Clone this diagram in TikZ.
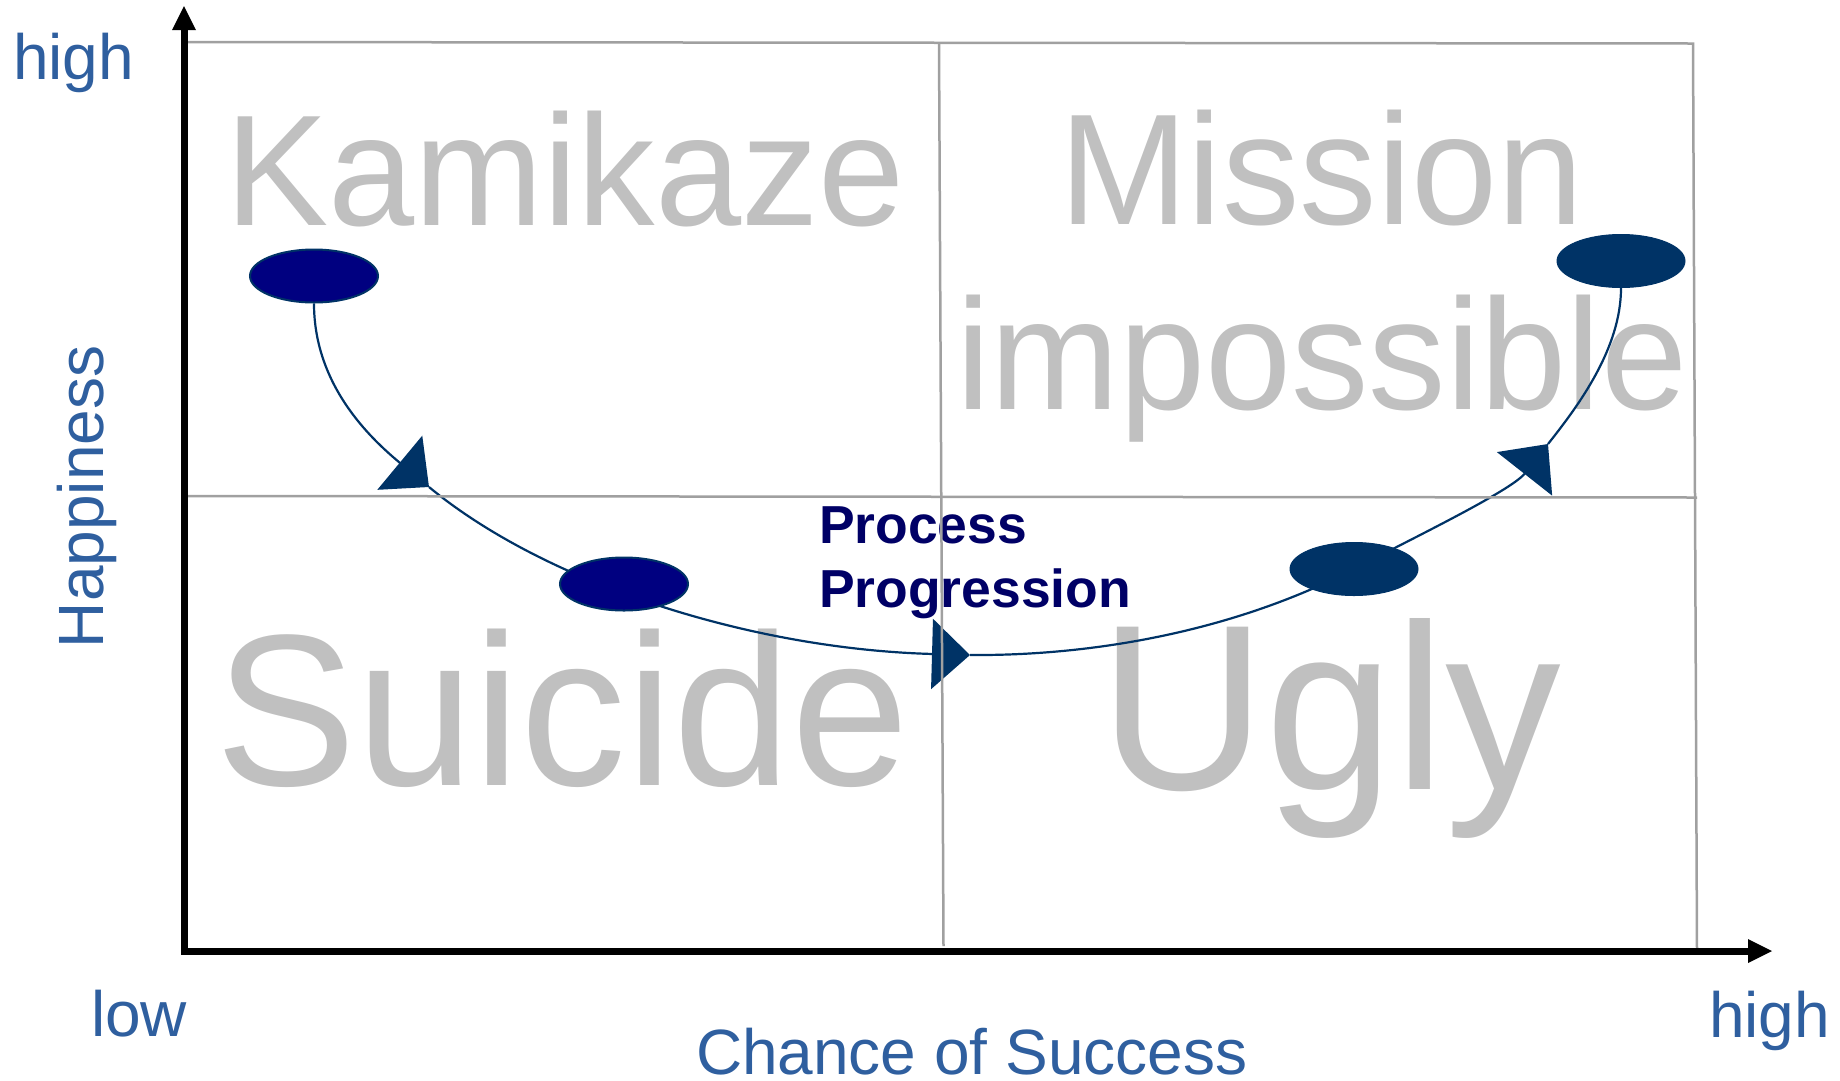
\documentclass[tikz,border=0pt]{standalone}
\usepackage{fontspec}
\setmainfont{Liberation Sans}
\newfontfamily\bigfont[FakeStretch=0.98]{Liberation Sans}
\usetikzlibrary{arrows.meta,shapes.geometric}
\definecolor{gridgray}{HTML}{A0A0A0}
\definecolor{biggray}{HTML}{C0C0C0}
\definecolor{axisblue}{HTML}{2F5F9F}
\definecolor{navytext}{HTML}{000066}
\definecolor{navyfill}{HTML}{000080}
\definecolor{darkblue}{HTML}{003366}
\pgfdeclarelayer{textlayer}
\pgfdeclarelayer{curvelayer}
\pgfdeclarelayer{gridlayer}
\pgfsetlayers{textlayer,curvelayer,main,gridlayer}
\begin{document}
\begin{tikzpicture}[x=1pt,y=-1pt,
  gridline/.style={gridgray, line width=2.5pt},
  quadlabel/.style={biggray, anchor=base west, inner sep=0pt, outer sep=0pt},
  axislabel/.style={axisblue, anchor=base west, inner sep=0pt, outer sep=0pt, font=\fontsize{64}{70}\selectfont},
  proclabel/.style={navytext, anchor=base west, inner sep=0pt, outer sep=0pt, font=\fontsize{53.5}{64}\selectfont\bfseries},
  dot/.style={ellipse, minimum width=128pt, minimum height=53pt, inner sep=0pt},
  dotA/.style={dot, fill=navyfill, draw=darkblue, line width=2pt},
  dotB/.style={dot, fill=darkblue, draw=darkblue, line width=1pt},
  flow/.style={darkblue, line width=2.2pt},
  flowtip/.style={-{Triangle[length=38pt,width=70pt]}},
  axisline/.style={black, line width=7pt, line join=miter,
    {Triangle[length=24pt,width=24pt,line width=0pt]}-{Triangle[length=24pt,width=24pt,line width=0pt]}},
]
\useasboundingbox (0,0) rectangle (1840,1080);

% quadrant labels
\begin{pgfonlayer}{textlayer}
\node[quadlabel, font=\bigfont\fontsize{158}{160}\selectfont] (kam) at (225,225) {Kamikaze};
\node[quadlabel, font=\bigfont\fontsize{158}{160}\selectfont] (mis) at (1059,224) {Mission};
\node[quadlabel, font=\bigfont\fontsize{158}{160}\selectfont] (imp) at (956,409) {impossible};
\node[quadlabel, font=\bigfont\fontsize{216}{220}\selectfont] (sui) at (215,785) {Suicide};
\node[quadlabel, font=\bigfont\fontsize{236}{240}\selectfont] (ugl) at (1099,789) {Ugly};
\end{pgfonlayer}

% stages
\node[dotA] (e1) at (314,276) {};
\node[dotA] (e2) at (624,584) {};
\node[dotB] (e3) at (1354,569) {};
\node[dotB] (e4) at (1621,261) {};

\coordinate (a1) at (429,487);
\coordinate (a2) at (970,655);
\coordinate (a3) at (1548,444);

\begin{pgfonlayer}{curvelayer}
\draw[flow, flowtip] (e1.south) .. controls (314,385) and (370,438) .. (a1);
\draw[flow, flowtip] (a1) .. controls (545,583) and (750,649) .. (a2);
\draw[flow] (a2) .. controls (1100,656) and (1238.6,628.8) .. (e3.center);
\draw[flow, flowtip] (e3.center) .. controls (1407,541) and (1511,491) .. (a3);
\draw[flow] (a3) .. controls (1579,405) and (1621,348) .. (e4.south);
\end{pgfonlayer}

\node[proclabel] (pp1) at (819,543) {Process};
\node[proclabel] (pp2) at (819,607) {Progression};

\begin{pgfonlayer}{gridlayer}
% grid
\draw[gridline] (186,42) -- (1693,43.5) -- (1697,951);
\draw[gridline] (186,496) -- (1697,497.5);
\draw[gridline] (939,42.5) -- (943.5,946);
% axes
\draw[axisline] (184,6) -- (184,951) -- (1772,951);
% axis labels
\node[axislabel] (yhigh) at (13,79) {high};
\node[axislabel] (xlow) at (91,1036) {low};
\node[axislabel] (xhigh) at (1709,1037) {high};
\node[axislabel] (xlab) at (696,1074) {Chance of Success};
\node[axislabel, rotate=90] (ylab) at (103,648) {Happiness};
\end{pgfonlayer}
\end{tikzpicture}
\end{document}
